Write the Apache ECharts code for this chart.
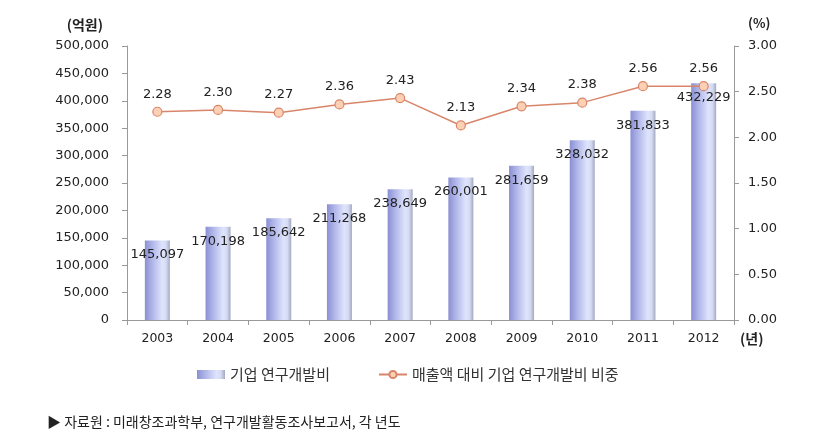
<!DOCTYPE html>
<html><head><meta charset="utf-8">
<script src="https://cdn.jsdelivr.net/npm/echarts@6/dist/echarts.min.js"></script>
<style>html,body{margin:0;padding:0;background:#fff}#c{width:822px;height:441px}</style>
</head><body><div id="c"></div>
<script>
const years = ['2003','2004','2005','2006','2007','2008','2009','2010','2011','2012'];
const rdSpend = [145097,170198,185642,211268,238649,260001,281659,328032,381833,432229];
const rdRatio = [2.28,2.30,2.27,2.36,2.43,2.13,2.34,2.38,2.56,2.56];
const leftTicks = {min:0,max:500000,interval:50000};
const rightTicks = {min:0,max:3,interval:0.5};

const font = '"DejaVu Sans", "Noto Sans CJK KR", sans-serif';
const kfont = '"Noto Sans CJK KR", sans-serif';
const chart = echarts.init(document.getElementById('c'));
const barGrad = new echarts.graphic.LinearGradient(0,0,1,0,[
  {offset:0,color:'#8a8fd2'},
  {offset:0.25,color:'#aab0e6'},
  {offset:0.7,color:'#dfe4fd'},
  {offset:0.85,color:'#d6dbf4'},
  {offset:1,color:'#a3a9bf'}
]);
chart.setOption({
  animation:false,
  textStyle:{fontFamily:font},
  grid:{left:127,right:88,top:46,bottom:121},
  legend:{
    top:362,left:192,itemGap:48,itemWidth:28,itemHeight:9,
    textStyle:{fontFamily:kfont,fontSize:15,color:'#333'},
    data:[{name:'기업 연구개발비',icon:'rect'},{name:'매출액 대비 기업 연구개발비 비중'}]
  },
  xAxis:{
    type:'category',data:years,
    axisLine:{lineStyle:{color:'#999'}},
    axisTick:{show:true,length:5,lineStyle:{color:'#999'}},
    axisLabel:{color:'#222',fontSize:12.5,margin:12,fontFamily:font}
  },
  yAxis:[
    {type:'value',...leftTicks,
     name:'(억원)',nameLocation:'end',nameGap:14,
     nameTextStyle:{color:'#222',fontSize:14,fontWeight:'bold',fontFamily:kfont,align:'right',padding:[0,24,0,0]},
     splitLine:{show:false},
     axisLine:{show:true,lineStyle:{color:'#999'}},
     axisTick:{show:true,length:5,lineStyle:{color:'#999'}},
     axisLabel:{color:'#222',fontSize:13,margin:18,fontFamily:font,
       formatter:v=>v.toLocaleString('en-US')}},
    {type:'value',...rightTicks,
     name:'(%)',nameLocation:'end',nameGap:16,
     nameTextStyle:{color:'#222',fontSize:13,fontWeight:'bold',fontFamily:kfont,align:'left',padding:[0,0,0,14]},
     splitLine:{show:false},
     axisLine:{show:true,lineStyle:{color:'#999'}},
     axisTick:{show:true,length:5,lineStyle:{color:'#999'}},
     axisLabel:{color:'#222',fontSize:13,margin:14,fontFamily:font,
       formatter:v=>v.toFixed(2)}}
  ],
  series:[
    {name:'기업 연구개발비',type:'bar',data:rdSpend,barWidth:25,
     itemStyle:{color:barGrad},
     label:{show:true,position:'insideTop',distance:8,color:'#222',fontSize:13,fontFamily:font,
       formatter:p=>p.value.toLocaleString('en-US')},
     z:2},
    {name:'매출액 대비 기업 연구개발비 비중',type:'line',yAxisIndex:1,data:rdRatio,
     symbol:'circle',symbolSize:9,
     lineStyle:{color:'#d9856a',width:1.5},
     itemStyle:{color:'#fbd0b4',borderColor:'#d9856a',borderWidth:1.2},
     label:{show:true,position:'top',distance:6,color:'#222',fontSize:13,fontFamily:font,
       formatter:p=>p.value.toFixed(2)},
     z:3}
  ],
  graphic:[
    {type:'text',left:740,top:332,style:{text:'(년)',fill:'#222',font:'bold 14px '+kfont}},
    {type:'text',left:47,top:415,style:{text:'▶ 자료원 : 미래창조과학부, 연구개발활동조사보고서, 각 년도',fill:'#222',font:'14px '+kfont}}
  ]
});
</script></body></html>
